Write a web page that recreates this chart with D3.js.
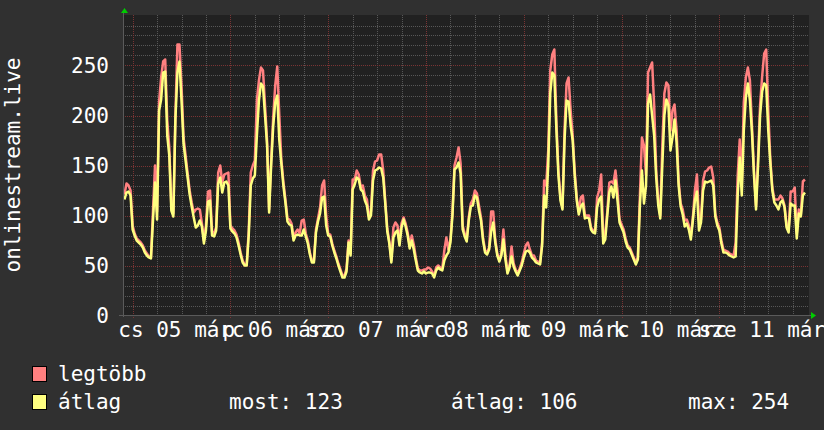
<!DOCTYPE html>
<html><head><meta charset="utf-8">
<script src="https://cdn.jsdelivr.net/npm/d3@7"></script>
<style>html,body{margin:0;padding:0;background:#303030;overflow:hidden}svg{display:block}</style>
</head><body>
<svg id="chart" width="824" height="430"></svg>
<script>
// ---- data (30-minute samples, first sample 2020-03-04 22:00) ----
const firstSample = Date.UTC(2020, 2, 4, 22, 0);
const stepMinutes = 30;
const avgValues = [
116,123,124,120,
86,80,75,73,71,68,63,60,58,57,
95,133,96,205,216,243,244,180,160,105,
99,196,243,254,215,172,155,138,121,109,
98,88,90,95,89,72,85,114,115,80,
79,85,132,138,123,133,134,130,87,84,
82,78,70,61,53,50,50,80,130,137,
140,180,215,232,229,200,170,103,150,189,
213,220,175,152,130,113,94,91,90,75,
80,81,80,80,86,79,72,61,53,53,
83,94,102,118,119,90,80,79,70,63,
57,50,44,38,38,44,73,60,126,131,
138,136,126,124,115,110,96,100,135,145,
146,148,147,138,112,84,72,53,78,83,
85,70,88,96,89,80,67,75,66,55,
45,43,42,44,42,43,43,42,38,45,
48,46,45,55,60,63,73,100,146,148,
153,142,86,79,74,95,109,110,120,118,
105,95,75,63,61,66,84,93,73,60,
54,60,76,56,42,48,59,49,44,40,
45,50,58,64,65,63,58,56,53,52,
51,70,120,108,150,222,243,240,186,140,
115,106,175,215,214,190,175,140,115,101,
109,112,97,98,97,86,83,82,108,116,
119,72,76,100,123,129,118,135,115,93,
88,83,74,68,66,61,56,51,56,110,
145,112,130,212,221,200,180,138,110,97,
150,200,216,210,165,178,196,173,130,109,
101,89,92,86,76,95,115,124,85,93,
125,134,133,134,135,130,99,90,85,72,
63,63,62,60,59,58,59,120,158,120,
185,218,232,215,183,140,106,150,200,224,
232,230,185,153,125,113,110,106,113,115,
108,88,83,112,110,110,77,102,99,120,123
];
const maxValues = [
121,132,130,125,
90,82,77,75,73,70,65,62,59,58,
105,150,104,214,238,254,256,195,168,110,
102,200,271,271,230,178,160,142,125,113,
103,106,107,106,92,75,90,124,125,84,
82,88,143,150,133,141,142,143,90,87,
85,81,73,63,55,51,51,85,143,150,
155,215,235,248,245,210,175,106,155,198,
230,249,200,156,134,116,97,96,92,77,
83,86,82,95,96,82,75,63,55,55,
86,97,108,130,135,100,82,81,72,65,
59,52,46,40,40,47,75,62,136,136,
145,141,128,130,120,116,99,104,145,154,
155,161,161,145,115,87,74,55,88,93,
90,75,92,98,92,83,70,80,71,58,
47,45,45,46,46,48,47,44,40,48,
50,48,47,65,78,66,76,104,150,158,
168,152,90,82,76,98,112,116,125,122,
110,98,78,65,63,68,104,104,76,62,
56,62,86,60,44,50,69,52,46,42,
47,53,62,70,73,66,60,60,55,54,
53,73,135,130,165,245,261,266,195,145,
118,108,185,232,238,205,180,144,118,104,
118,120,100,100,100,88,85,84,118,125,
141,78,82,104,133,134,132,145,125,96,
91,86,77,70,68,63,58,53,58,120,
178,170,140,243,248,253,210,145,115,100,
170,222,233,230,185,205,211,185,135,112,
106,95,96,90,79,98,125,141,95,96,
135,144,145,148,149,138,102,93,88,75,
66,65,64,62,61,60,73,140,176,130,
213,238,248,235,190,145,109,158,211,239,
262,266,205,157,128,116,116,116,120,117,
110,90,85,124,124,128,82,106,101,134,136
];
const yTickValues = [0, 50, 100, 150, 200, 250];
const dayLabels = ["cs 05 márc", "p 06 márc", "szo 07 márc", "v 08 márc", "h 09 márc", "k 10 márc", "sze 11 márc"];
const dayNumbers = [5, 6, 7, 8, 9, 10, 11];
const seriesNames = ["legtöbb", "átlag"];
const seriesColors = ["#ff8080", "#ffff80"];
const statLabels = ["most: 123", "átlag: 106", "max: 254"];
const yTitle = "onlinestream.live";

// ---- layout ----
const W = 824, H = 430;
const plot = {left: 123, right: 809, top: 15, bottom: 315};
const FONT = "'DejaVu Sans Mono', monospace";
const svg = d3.select("#chart");

const tStart = new Date(Date.UTC(2020, 2, 5, 0, 0) - 2.36 * 3600e3);
const tEnd = new Date(Date.UTC(2020, 2, 5, 0, 0) + 166.0 * 3600e3);
const x = d3.scaleUtc().domain([tStart, tEnd]).range([plot.left, plot.right]);
const y = d3.scaleLinear().domain([0, 300]).range([plot.bottom + 0.5, plot.top + 0.5]);

svg.append("rect").attr("width", W).attr("height", H).attr("fill", "#303030");
svg.append("rect").attr("x", plot.left).attr("y", plot.top)
  .attr("width", plot.right - plot.left).attr("height", plot.bottom - plot.top)
  .attr("fill", "#212121");

const grid = svg.append("g").attr("shape-rendering", "crispEdges");
// minor horizontal
d3.range(10, 300, 10).filter(v => v % 50 !== 0).forEach(v => {
  grid.append("line").attr("x1", plot.left).attr("x2", plot.right)
    .attr("y1", Math.round(y(v)) + 0.5).attr("y2", Math.round(y(v)) + 0.5)
    .attr("stroke", "#575757").attr("stroke-dasharray", "1,1");
});
// minor vertical every 6 hours
d3.utcHour.every(6).range(tStart, tEnd).filter(d => d.getUTCHours() !== 0).forEach(d => {
  const px = Math.round(x(d)) + 0.5;
  grid.append("line").attr("x1", px).attr("x2", px).attr("y1", plot.top).attr("y2", plot.bottom)
    .attr("stroke", "#575757").attr("stroke-dasharray", "1,1");
});
// major horizontal
yTickValues.filter(v => v > 0).forEach(v => {
  grid.append("line").attr("x1", plot.left).attr("x2", plot.right)
    .attr("y1", Math.round(y(v)) + 0.5).attr("y2", Math.round(y(v)) + 0.5)
    .attr("stroke", "#7a3434").attr("stroke-dasharray", "1,1");
});
// major vertical (midnights)
d3.utcDay.range(tStart, tEnd).forEach(d => {
  const px = Math.round(x(d)) + 0.5;
  grid.append("line").attr("x1", px).attr("x2", px).attr("y1", plot.top).attr("y2", plot.bottom + 3)
    .attr("stroke", "#7a3434").attr("stroke-dasharray", "1,1");
});

// series
const times = avgValues.map((_, i) => new Date(firstSample + i * stepMinutes * 60e3));
const line = d3.line().x((d, i) => x(times[i])).y(d => y(d)).curve(d3.curveLinear);
[maxValues, avgValues].forEach((vals, k) => {
  svg.append("path").datum(vals).attr("d", line).attr("fill", "none")
    .attr("stroke", seriesColors[k]).attr("stroke-width", 2.5)
    .attr("stroke-linejoin", "round");
});

// axes lines
const ax = svg.append("g").attr("shape-rendering", "crispEdges");
ax.append("line").attr("x1", plot.left - 4).attr("x2", plot.right + 2)
  .attr("y1", plot.bottom + 0.5).attr("y2", plot.bottom + 0.5).attr("stroke", "#5a5a5a");
ax.append("line").attr("x1", plot.left + 0.5).attr("x2", plot.left + 0.5)
  .attr("y1", plot.top - 4).attr("y2", plot.bottom + 2).attr("stroke", "#5a5a5a");
// arrows
svg.append("path").attr("d", `M${plot.left - 2},${plot.top - 2} L${plot.left + 1.5},${plot.top - 7} L${plot.left + 5},${plot.top - 2} Z`).attr("fill", "#00cc00");
svg.append("path").attr("d", `M${plot.right + 2},${plot.bottom - 3} L${plot.right + 7},${plot.bottom + 0.5} L${plot.right + 2},${plot.bottom + 4} Z`).attr("fill", "#00cc00");

// y tick labels
svg.append("g").selectAll("text").data(yTickValues).join("text")
  .attr("x", 109).attr("y", d => y(d)).attr("dy", "0.36em")
  .attr("text-anchor", "end").attr("fill", "#ffffff")
  .style("font-family", FONT).style("font-size", "21px").text(d => d);

// x day labels (centered at noon)
svg.append("g").selectAll("text").data(dayLabels).join("text")
  .attr("x", (d, i) => x(new Date(Date.UTC(2020, 2, dayNumbers[i], 12, 0))))
  .attr("y", 337).attr("text-anchor", "middle").attr("fill", "#ffffff")
  .style("font-family", FONT).style("font-size", "21px").text(d => d);

// y title
svg.append("text").attr("transform", "translate(20,165) rotate(-90)")
  .attr("text-anchor", "middle").attr("fill", "#ffffff")
  .style("font-family", FONT).style("font-size", "21px").text(yTitle);

// legend
const leg = svg.append("g");
seriesNames.forEach((name, i) => {
  const yy = 366 + i * 28;
  leg.append("rect").attr("x", 32.5).attr("y", yy + 0.5).attr("width", 14).attr("height", 15)
    .attr("fill", seriesColors[i]).attr("stroke", "#000");
  leg.append("text").attr("x", 58).attr("y", yy + 15).attr("fill", "#fff")
    .style("font-family", FONT).style("font-size", "21px").text(name);
});
const statX = [229, 451, 688];
statLabels.forEach((s, i) => {
  leg.append("text").attr("x", statX[i]).attr("y", 409).attr("fill", "#fff")
    .style("font-family", FONT).style("font-size", "21px").text(s);
});
</script>
</body></html>
